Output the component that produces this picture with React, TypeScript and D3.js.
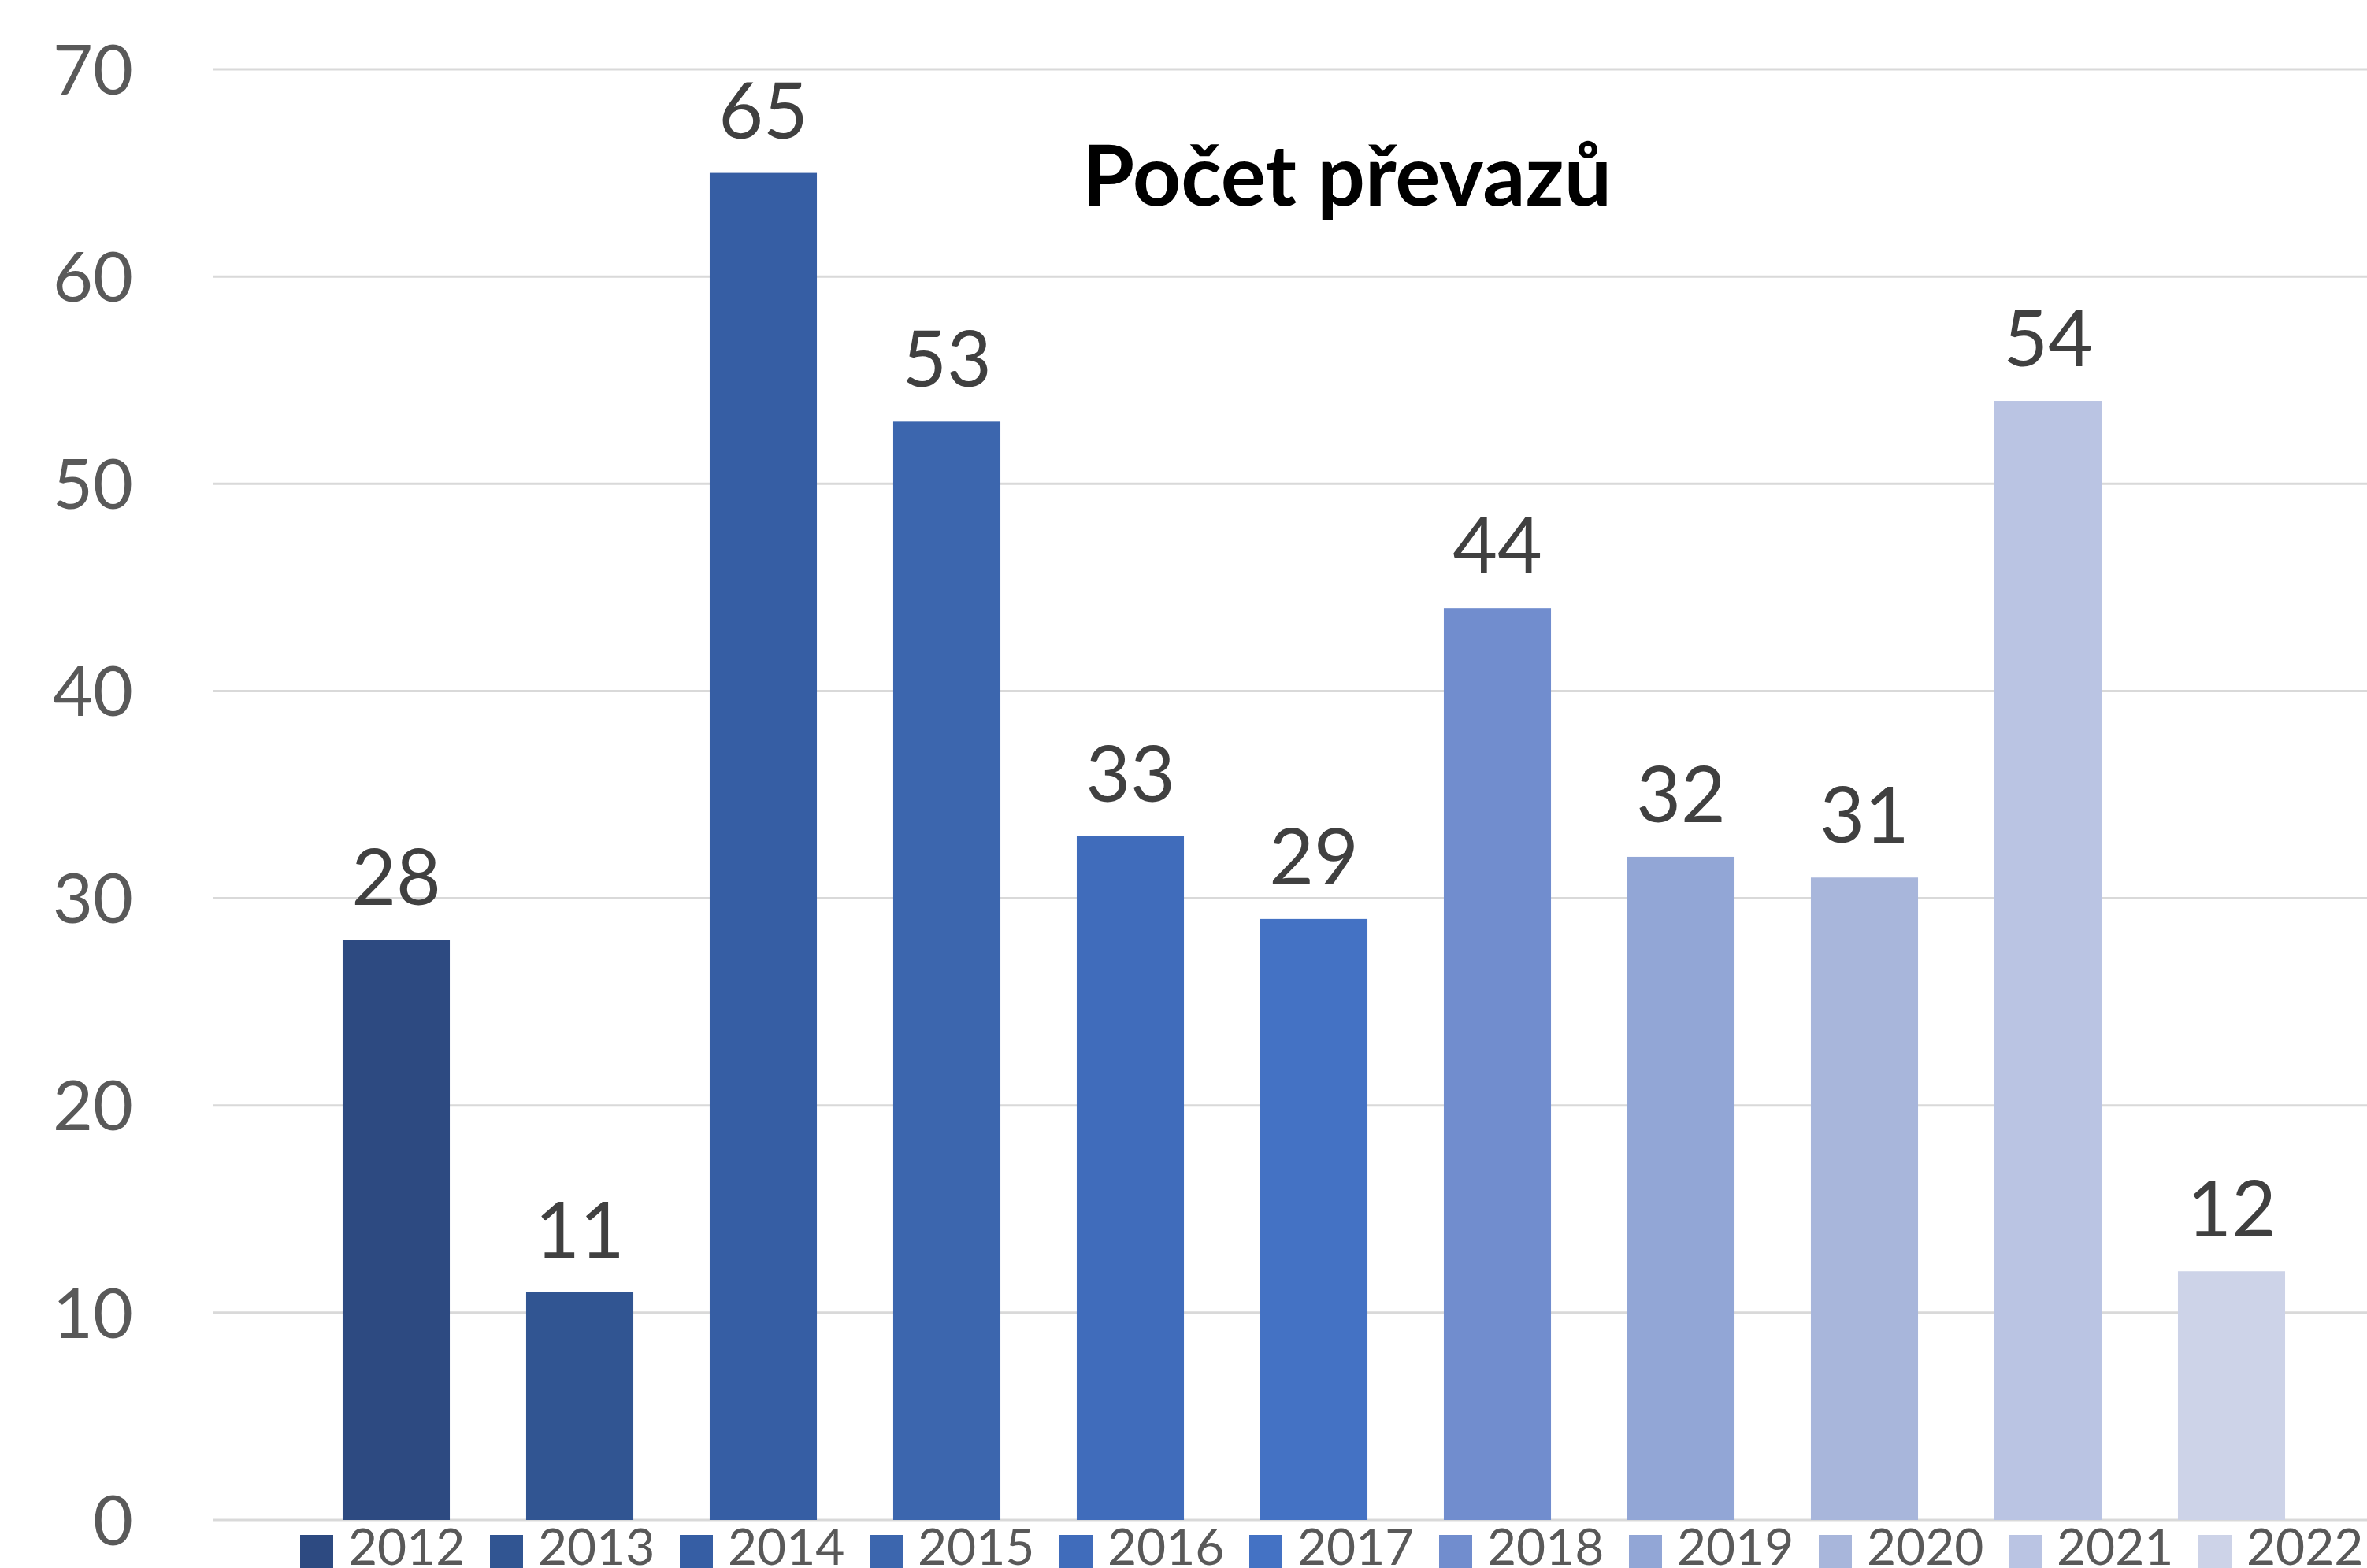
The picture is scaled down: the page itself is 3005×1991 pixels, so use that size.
import React, { useRef, useEffect } from 'react';
import * as d3 from 'd3';

const years: string[] = ['2012', '2013', '2014', '2015', '2016', '2017', '2018', '2019', '2020', '2021', '2022'];
const counts: number[] = [28, 11, 65, 53, 33, 29, 44, 32, 31, 54, 12];
const barColors: string[] = [
  '#2D4A81', '#315592', '#365EA4', '#3C66AE', '#406CBB', '#4472C4',
  '#718DCE', '#92A6D6', '#A8B6DB', '#BAC4E3', '#CDD3E8',
];
const yTicks: number[] = [0, 10, 20, 30, 40, 50, 60, 70];
const title = 'Počet převazů';

const W = 3005;
const H = 1991;
const FONT = 'Lato, "Open Sans", "Noto Sans", sans-serif';

const App = () => {
  const svgRef = useRef<SVGSVGElement | null>(null);

  useEffect(() => {
    document.body.style.margin = '0';
    const svg = d3.select(svgRef.current);
    svg.selectAll('*').remove();

    const plot = { left: 270, right: 3066, top: 88, bottom: 1930 };
    const step = (plot.right - plot.left) / 12;

    const y = d3.scaleLinear().domain([0, 70]).range([plot.bottom, plot.top]);
    const x = d3.scaleBand<string>()
      .domain(years)
      .range([plot.left + step / 2, plot.right - step / 2])
      .paddingInner(0.416)
      .paddingOuter(0.208);

    svg.append('rect').attr('width', W).attr('height', H).attr('fill', '#ffffff');

    // gridlines
    svg.append('g')
      .selectAll('line')
      .data(yTicks)
      .enter().append('line')
      .attr('x1', plot.left)
      .attr('x2', W)
      .attr('y1', d => y(d))
      .attr('y2', d => y(d))
      .attr('stroke', '#D9D9D9')
      .attr('stroke-width', 3);

    // y tick labels
    svg.append('g')
      .selectAll('text')
      .data(yTicks)
      .enter().append('text')
      .attr('x', 169)
      .attr('y', d => y(d))
      .attr('dy', '0.36em')
      .attr('text-anchor', 'end')
      .attr('font-family', FONT)
      .attr('font-size', 88)
      .attr('fill', '#595959')
      .text(d => d);

    // bars
    svg.append('g')
      .selectAll('rect')
      .data(counts)
      .enter().append('rect')
      .attr('x', (d, i) => x(years[i]) as number)
      .attr('y', d => y(d))
      .attr('width', x.bandwidth())
      .attr('height', d => y(0) - y(d))
      .attr('fill', (d, i) => barColors[i]);

    // data labels
    svg.append('g')
      .selectAll('text')
      .data(counts)
      .enter().append('text')
      .attr('x', (d, i) => (x(years[i]) as number) + x.bandwidth() / 2)
      .attr('y', d => y(d) - 44)
      .attr('text-anchor', 'middle')
      .attr('font-family', FONT)
      .attr('font-size', 98)
      .attr('fill', '#404040')
      .text(d => d);

    // title
    svg.append('text')
      .attr('x', 1710)
      .attr('y', 261)
      .attr('text-anchor', 'middle')
      .attr('font-family', FONT)
      .attr('font-weight', 'bold')
      .attr('font-size', 107)
      .attr('fill', '#000000')
      .text(title);

    // legend
    const legend = svg.append('g')
      .selectAll('g')
      .data(years)
      .enter().append('g')
      .attr('transform', (d, i) => `translate(${381 + i * 241},0)`);

    legend.append('rect')
      .attr('x', 0)
      .attr('y', 1949)
      .attr('width', 42)
      .attr('height', 42)
      .attr('fill', (d, i) => barColors[i]);

    legend.append('text')
      .attr('x', 61)
      .attr('y', 1987)
      .attr('font-family', FONT)
      .attr('font-size', 64)
      .attr('fill', '#595959')
      .text(d => d);
  }, []);

  return (
    <svg ref={svgRef} width={W} height={H} style={{ display: 'block', overflow: 'hidden' }}></svg>
  );
};

export default App;
